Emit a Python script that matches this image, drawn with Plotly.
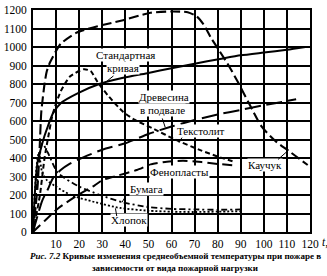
import plotly.graph_objects as go

# ---- data (time, min ; temperature, °C) ----
std_t = [0, 1, 2, 3.4, 5, 6.4, 8.6, 12, 19.3, 29, 38.6, 50, 60, 70, 81, 90, 100, 110, 118]
std_T = [0, 250, 380, 450, 520, 570, 640, 696, 749, 801, 832, 860, 885, 910, 935, 955, 970, 985, 1000]

kau_t = [0, 2, 2.9, 3.6, 5, 6, 7.5, 12, 19, 29, 39, 51, 60, 67, 71, 74, 77, 81, 85, 89, 93.5, 99, 105, 110.6, 119]
kau_T = [0, 250, 460, 650, 800, 870, 920, 1017, 1078, 1115, 1145, 1185, 1192, 1188, 1165, 1120, 1052, 974, 895, 805, 697, 571, 492, 440, 362]

tex_t = [0, 3, 5, 6.4, 8.6, 12, 16, 22, 25, 28, 33, 39, 44, 52.7, 61, 73, 80, 87]
tex_T = [0, 200, 400, 500, 640, 760, 840, 880, 870, 810, 730, 650, 607, 555, 503, 440, 408, 380]

wood_t = [0, 4, 6.4, 8.6, 12, 16, 22, 30, 40, 50, 60, 70, 80, 90, 100, 114]
wood_T = [0, 170, 230, 290, 335, 370, 405, 445, 480, 530, 570, 605, 635, 660, 685, 717]

phen_t = [0, 5, 10.7, 19.3, 26.6, 30, 36.4, 45, 51, 58, 65, 73, 80, 87]
phen_T = [0, 60, 126, 199, 251, 280, 304, 335, 365, 380, 385, 378, 368, 360]

pap_t = [0, 2, 4, 6.4, 10.7, 19.3, 29, 39, 50, 60, 70, 80, 90]
pap_T = [0, 300, 480, 430, 320, 250, 200, 160, 135, 125, 122, 120, 122]

cot_t = [0, 1.5, 2.5, 4, 6, 9.4, 16.3, 26.6, 37.7, 50, 60, 70, 80, 90]
cot_T = [0, 350, 430, 320, 280, 250, 200, 162, 130, 115, 110, 108, 110, 112]

x_ticks = list(range(10, 130, 10))
y_ticks = list(range(0, 1300, 100))

series = [
    (std_t, std_T, "solid", 2.0),
    (kau_t, kau_T, "10px,4px", 2.1),
    (tex_t, tex_T, "5px,3px", 2.0),
    (wood_t, wood_T, "16px,6px", 2.0),
    (phen_t, phen_T, "10px,5px", 2.0),
    (pap_t, pap_T, "6px,3px,2px,3px", 1.8),
    (cot_t, cot_T, "2px,2px", 1.8),
]

fig = go.Figure()
for t, T, dash, w in series:
    fig.add_trace(go.Scatter(x=t, y=T, mode="lines",
                             line=dict(color="black", width=w, dash=dash, shape="spline", smoothing=0.6),
                             showlegend=False, hoverinfo="skip"))

font_lbl = dict(family="Liberation Serif", size=11, color="black")
labels = [
    (39.9, 955, "Стандартная"),
    (39.0, 885, "кривая"),
    (56.6, 732, "Древесина"),
    (56.1, 658, "в подвале"),
    (72.9, 547, "Текстолит"),
    (100.3, 363, "Каучук"),
    (63.4, 326, "Фенопласты"),
    (49.3, 232, "Бумага"),
    (41.6, 63, "Хлопок"),
]
for x, y, s in labels:
    fig.add_annotation(x=x, y=y, text=s, showarrow=False, font=font_lbl,
                       xanchor="center", yanchor="middle",
                       bgcolor="white", borderpad=0)

leaders = [
    ((35.5, 850), (31, 805)),
    ((55.8, 622), (57.3, 565)),
    ((65, 518), (63.2, 485)),
    ((105.5, 385), (110.5, 440)),
    ((40.5, 200), (38.5, 160)),
    ((36.4, 78), (35.7, 128)),
]
for (tx, ty), (hx, hy) in leaders:
    fig.add_annotation(x=hx, y=hy, ax=tx, ay=ty, axref="x", ayref="y",
                       text="", showarrow=True, arrowhead=0, arrowwidth=1,
                       arrowcolor="black", standoff=0, startstandoff=0)

cap_font = dict(family="Liberation Serif", size=9, color="black")
fig.add_annotation(xref="paper", yref="paper", x=0.514, y=-0.108,
                   text="<b><i>Рис. 7.2</i> Кривые изменения среднеобъемной температуры при пожаре в</b>",
                   showarrow=False, font=cap_font, xanchor="center", yanchor="middle")
fig.add_annotation(xref="paper", yref="paper", x=0.514, y=-0.16,
                   text="<b>зависимости от вида пожарной нагрузки</b>",
                   showarrow=False, font=cap_font, xanchor="center", yanchor="middle")
fig.add_annotation(xref="paper", yref="paper", x=1.036, y=-0.047,
                   text="<i>t</i>,", showarrow=False,
                   font=dict(family="Liberation Serif", size=11.5, color="black"),
                   xanchor="left", yanchor="middle")

tick_font = dict(family="Liberation Serif", size=11.5, color="black")
fig.update_xaxes(range=[0, 120], tickvals=x_ticks, ticktext=[str(v) for v in x_ticks],
                 showgrid=True, gridcolor="black", gridwidth=1.5,
                 showline=True, linecolor="black", linewidth=2, mirror=True,
                 ticks="", tickfont=tick_font, zeroline=False, ticklabelstandoff=0)
fig.update_yaxes(range=[0, 1200], tickvals=y_ticks, ticktext=[str(v) for v in y_ticks],
                 showgrid=True, gridcolor="black", gridwidth=1.5,
                 showline=True, linecolor="black", linewidth=2, mirror=True,
                 ticks="", tickfont=tick_font, zeroline=False, ticklabelstandoff=2)

fig.update_layout(width=327, height=276, margin=dict(l=30, r=17, t=4, b=44),
                  paper_bgcolor="white", plot_bgcolor="white", showlegend=False)

fig.write_html("out.html", include_plotlyjs=True, config={"displayModeBar": False})
